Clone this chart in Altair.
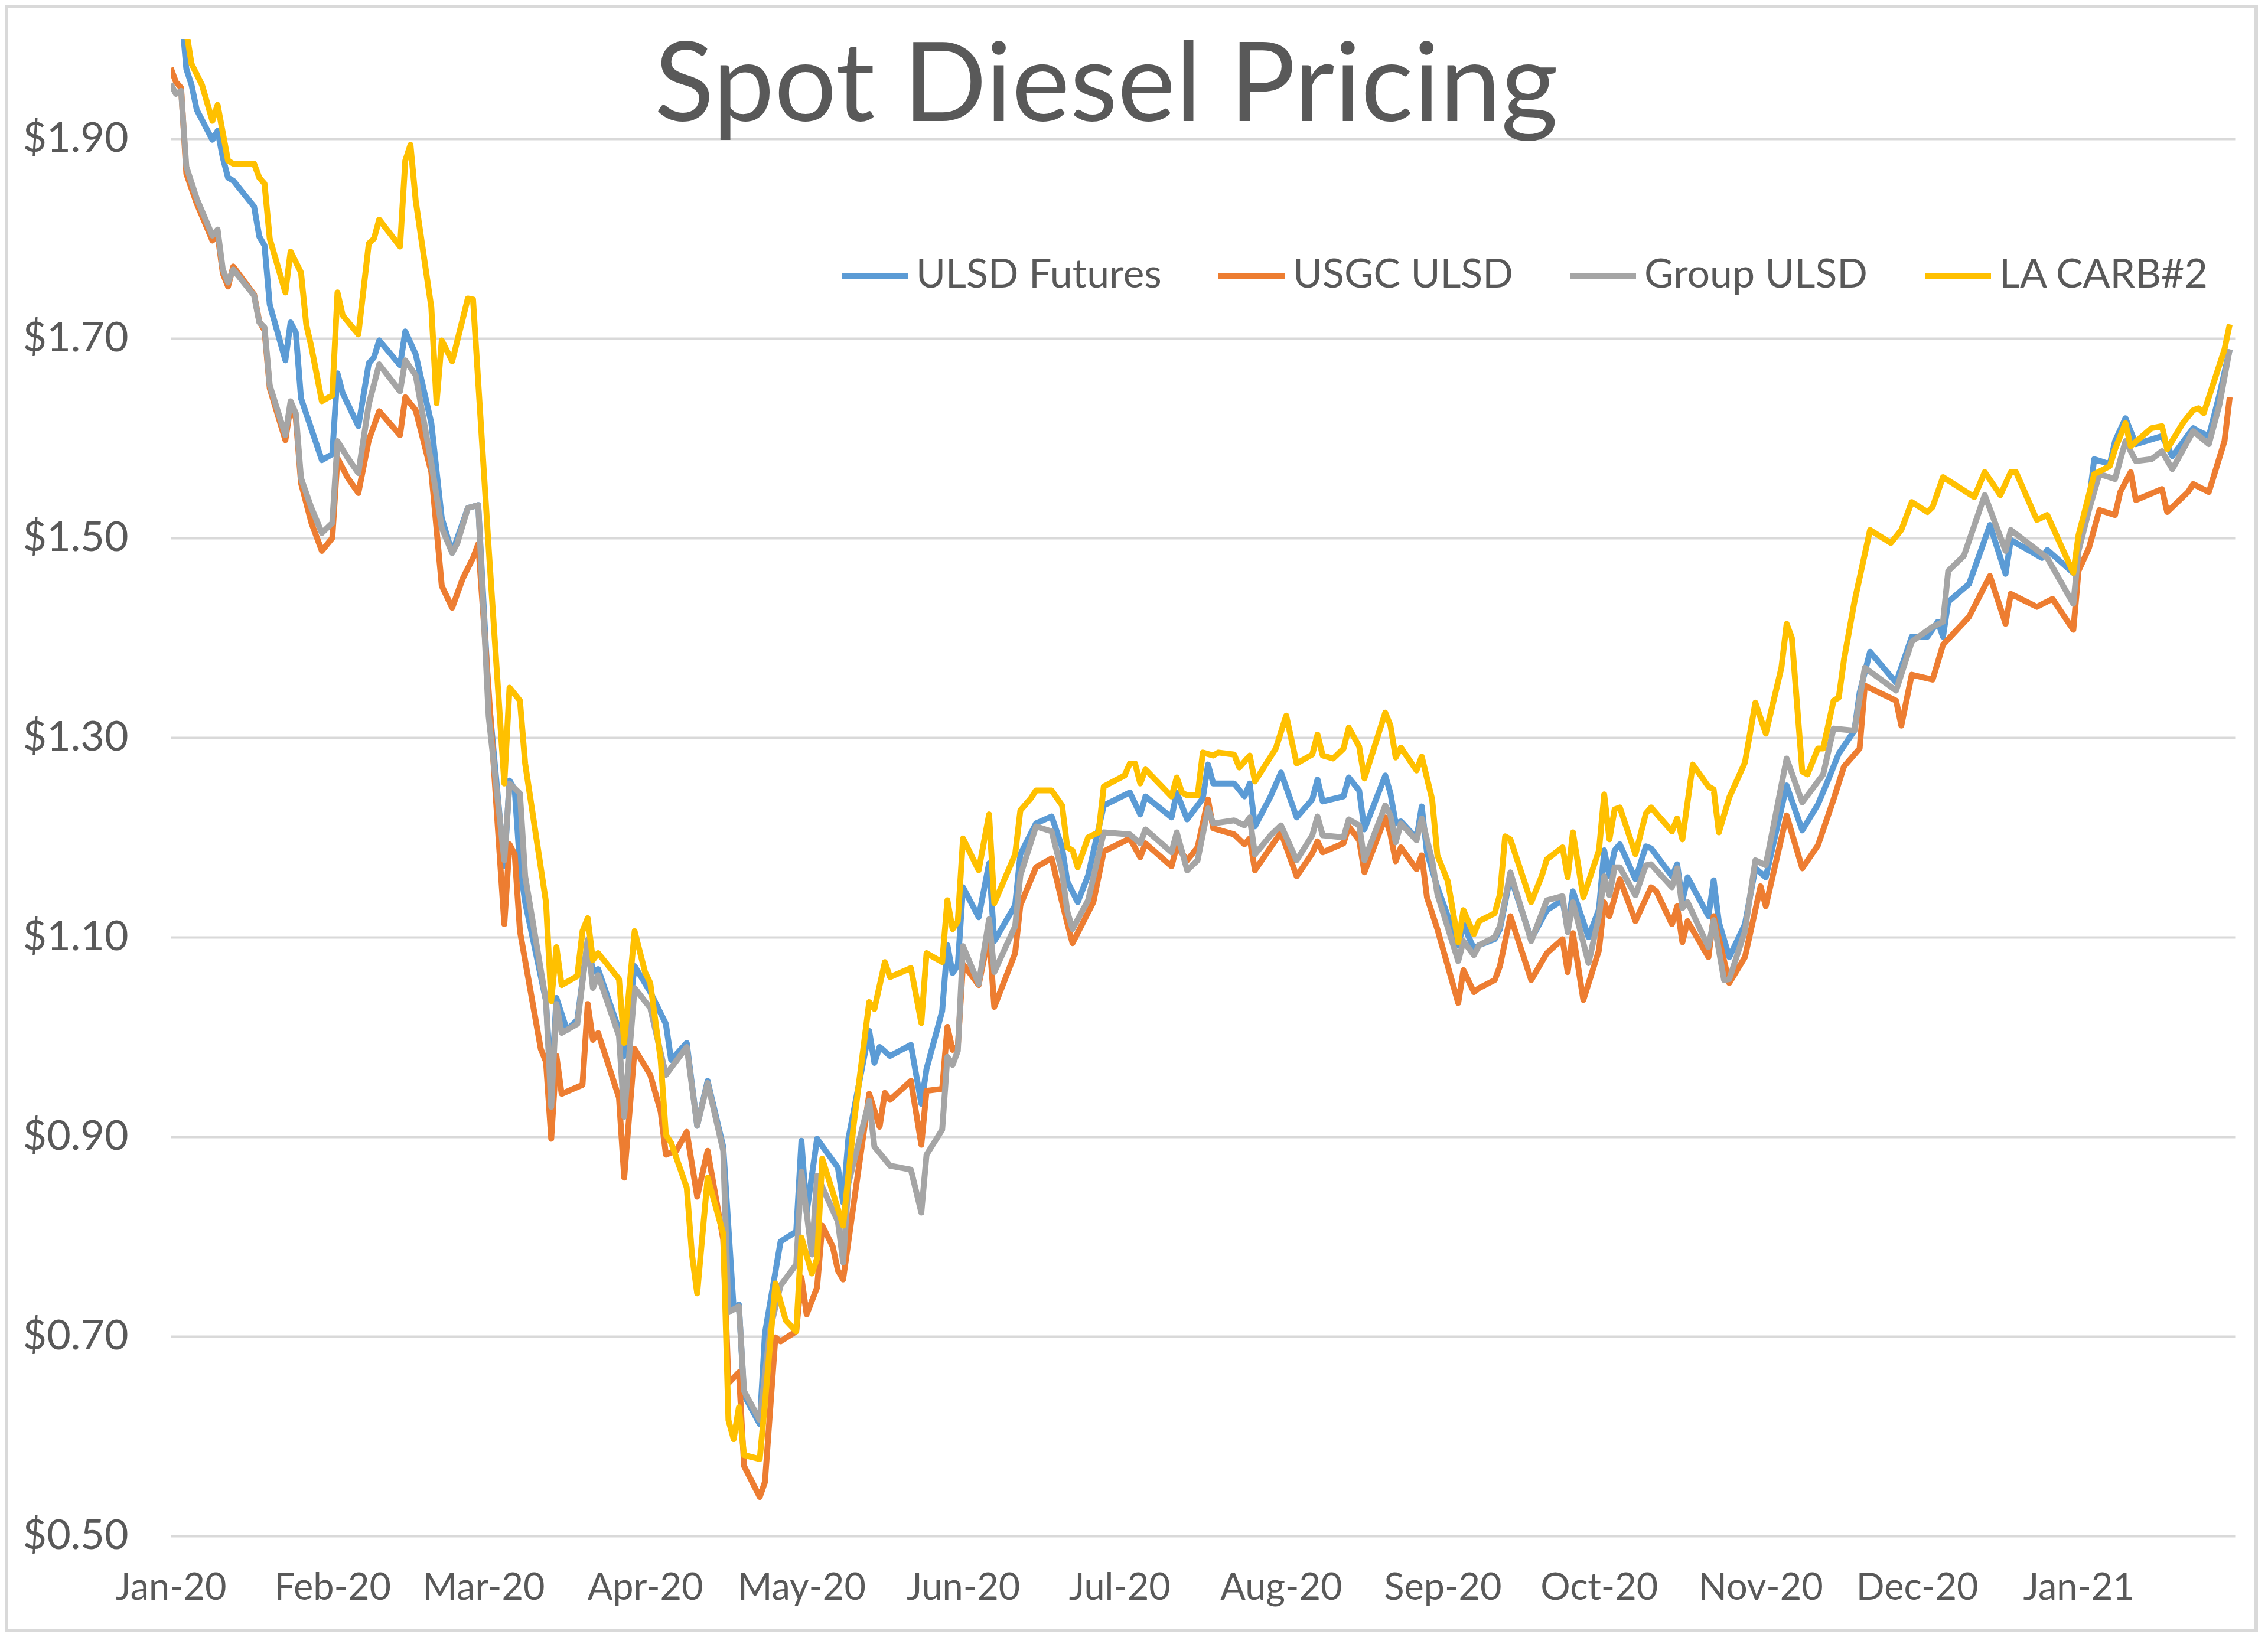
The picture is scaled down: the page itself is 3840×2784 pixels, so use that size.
import altair as alt
import pandas as pd

TITLE = "Spot Diesel Pricing"
SERIES = ["ULSD Futures", "USGC ULSD", "Group ULSD", "LA CARB#2"]
COLORS = ["#5B9BD5", "#ED7D31", "#A5A5A5", "#FFC000"]
START = "2020-01-01"  # day 0 of the day-offset lists below

Y_TICKS = [0.5, 0.7, 0.9, 1.1, 1.3, 1.5, 1.7, 1.9]
X_TICK_MONTHS = [(2020, m) for m in range(1, 13)] + [(2021, 1)]

# ---- ULSD Futures ----
ulsd_days = [0, 2, 3, 4, 5, 8, 9, 10, 11, 12, 16, 17, 18, 19, 22, 23, 24, 25, 29, 31, 32, 33, 36, 38, 39, 40,
             44, 45, 47, 50, 52, 54, 55, 57, 59, 61, 64, 65, 66, 67, 68, 72, 73, 74, 76, 78, 80, 81, 82, 86, 87,
             89, 92, 95, 96, 99, 101, 103, 106, 108, 109, 110, 113, 114, 117, 120, 121, 122, 124, 128, 129, 130,
             134, 135, 136, 138, 142, 144, 145, 148, 149, 150, 151, 152, 155, 157, 158, 162, 163, 166, 169, 171,
             172, 174, 176, 179, 184, 186, 187, 192, 193, 195, 198, 199, 200, 204, 206, 207, 208, 211, 213, 216,
             219, 220, 221, 225, 226, 228, 229, 233, 234, 235, 236, 239, 240, 241, 243, 247, 248, 250, 251, 254,
             255, 257, 261, 264, 267, 268, 269, 272, 274, 275, 276, 277, 278, 281, 283, 284, 288, 289, 290, 291,
             295, 296, 297, 299, 302, 304, 306, 310, 313, 316, 318, 320, 323, 324, 326, 331, 334, 337, 339, 340,
             341, 345, 349, 352, 353, 359, 360, 365, 367, 368, 369, 372, 373, 375, 377, 382, 384, 388, 389, 391,
             393, 395]
ulsd_vals = [2.03, 2.03, 1.97, 1.954, 1.929, 1.899, 1.908, 1.881, 1.861, 1.858, 1.832, 1.802, 1.793, 1.734,
             1.678, 1.716, 1.706, 1.640, 1.578, 1.584, 1.665, 1.645, 1.612, 1.675, 1.681, 1.698, 1.673, 1.707,
             1.684, 1.615, 1.52, 1.485, 1.50, 1.53, 1.533, 1.340, 1.171, 1.257, 1.248, 1.171, 1.135, 1.036, 0.949,
             1.039, 1.007, 1.017, 1.097, 1.065, 1.068, 1.007, 0.981, 1.071, 1.045, 1.013, 0.977, 0.994, 0.911,
             0.956, 0.890, 0.728, 0.732, 0.641, 0.612, 0.703, 0.795, 0.805, 0.896, 0.824, 0.898, 0.869, 0.834,
             0.898, 1.006, 0.974, 0.990, 0.981, 0.992, 0.933, 0.968, 1.026, 1.092, 1.064, 1.072, 1.150, 1.120,
             1.174, 1.096, 1.132, 1.183, 1.214, 1.221, 1.190, 1.156, 1.135, 1.162, 1.232, 1.245, 1.223, 1.241,
             1.220, 1.245, 1.218, 1.239, 1.273, 1.254, 1.254, 1.241, 1.254, 1.211, 1.241, 1.265, 1.220, 1.238,
             1.258, 1.236, 1.241, 1.260, 1.247, 1.208, 1.262, 1.244, 1.214, 1.216, 1.199, 1.231, 1.185, 1.150,
             1.092, 1.113, 1.088, 1.092, 1.098, 1.108, 1.161, 1.098, 1.127, 1.137, 1.108, 1.146, 1.100, 1.128,
             1.187, 1.161, 1.187, 1.193, 1.158, 1.191, 1.189, 1.161, 1.173, 1.136, 1.160, 1.121, 1.157, 1.115,
             1.080, 1.113, 1.169, 1.160, 1.252, 1.207, 1.233, 1.258, 1.284, 1.307, 1.345, 1.386, 1.355, 1.401,
             1.401, 1.416, 1.401, 1.436, 1.454, 1.513, 1.464, 1.498, 1.480, 1.488, 1.465, 1.518, 1.536, 1.579,
             1.574, 1.597, 1.620, 1.594, 1.602, 1.582, 1.610, 1.607, 1.602, 1.643, 1.689]

# ---- USGC ULSD ----
usgc_days = [0, 1, 2, 3, 5, 8, 9, 10, 11, 12, 16, 17, 18, 19, 22, 23, 24, 25, 27, 29, 31, 32, 34, 36, 38, 40, 44,
             45, 47, 50, 52, 54, 56, 58, 59, 61, 64, 65, 66, 67, 71, 72, 73, 74, 75, 79, 80, 81, 82, 86, 87, 89, 92,
             94, 95, 97, 99, 101, 103, 106, 107, 109, 110, 113, 114, 116, 117, 120, 121, 122, 124, 125, 127, 128,
             129, 131, 134, 136, 137, 138, 142, 144, 145, 148, 149, 150, 151, 152, 155, 157, 158, 162, 163, 166,
             169, 171, 172, 173, 177, 179, 184, 186, 187, 192, 193, 195, 197, 199, 200, 204, 206, 207, 208, 211,
             213, 216, 219, 220, 221, 225, 226, 228, 229, 233, 234, 235, 236, 239, 240, 241, 243, 247, 248, 250,
             251, 254, 255, 257, 261, 264, 267, 268, 269, 271, 274, 275, 276, 278, 281, 284, 285, 288, 289, 290,
             291, 295, 296, 299, 302, 305, 306, 310, 313, 316, 319, 321, 324, 325, 331, 332, 334, 338, 340, 345,
             349, 352, 353, 358, 361, 365, 366, 368, 370, 373, 374, 376, 377, 382, 383, 387, 388, 391, 394, 395]
usgc_vals = [1.971, 1.957, 1.951, 1.865, 1.835, 1.798, 1.804, 1.765, 1.752, 1.772, 1.744, 1.717, 1.708, 1.650,
             1.598, 1.632, 1.620, 1.555, 1.515, 1.487, 1.500, 1.580, 1.560, 1.545, 1.598, 1.627, 1.603, 1.641,
             1.628, 1.566, 1.452, 1.430, 1.459, 1.480, 1.494, 1.347, 1.113, 1.193, 1.183, 1.106, 0.988, 0.975,
             0.898, 0.981, 0.943, 0.952, 1.033, 0.997, 1.004, 0.939, 0.859, 0.988, 0.962, 0.925, 0.882, 0.886,
             0.905, 0.840, 0.886, 0.797, 0.653, 0.664, 0.570, 0.539, 0.554, 0.699, 0.695, 0.705, 0.759, 0.722,
             0.749, 0.811, 0.790, 0.766, 0.757, 0.832, 0.943, 0.910, 0.944, 0.937, 0.956, 0.892, 0.946, 0.948,
             1.010, 0.987, 0.990, 1.073, 1.052, 1.103, 1.030, 1.084, 1.132, 1.170, 1.179, 1.135, 1.114, 1.094,
             1.135, 1.186, 1.199, 1.180, 1.194, 1.171, 1.191, 1.177, 1.190, 1.238, 1.209, 1.203, 1.193, 1.199,
             1.167, 1.190, 1.205, 1.161, 1.184, 1.196, 1.185, 1.194, 1.211, 1.197, 1.165, 1.220, 1.203, 1.176,
             1.190, 1.168, 1.182, 1.140, 1.108, 1.034, 1.067, 1.045, 1.049, 1.057, 1.071, 1.121, 1.057, 1.084,
             1.098, 1.065, 1.104, 1.037, 1.087, 1.135, 1.121, 1.158, 1.116, 1.150, 1.146, 1.113, 1.131, 1.095,
             1.116, 1.080, 1.121, 1.054, 1.080, 1.151, 1.131, 1.222, 1.169, 1.192, 1.238, 1.271, 1.289, 1.352,
             1.337, 1.312, 1.363, 1.358, 1.393, 1.421, 1.462, 1.414, 1.444, 1.431, 1.439, 1.408, 1.467, 1.490,
             1.528, 1.523, 1.546, 1.566, 1.538, 1.549, 1.526, 1.546, 1.554, 1.546, 1.597, 1.641]

# ---- Group ULSD ----
group_days = [0, 1, 2, 3, 5, 8, 9, 10, 11, 12, 16, 17, 18, 19, 22, 23, 24, 25, 27, 29, 31, 32, 34, 36, 38, 40, 44,
              45, 47, 50, 52, 54, 55, 57, 59, 61, 64, 65, 67, 68, 72, 73, 74, 75, 78, 80, 81, 82, 86, 87, 89, 92,
              95, 99, 101, 103, 106, 107, 109, 110, 113, 115, 117, 120, 121, 123, 124, 128, 129, 130, 134, 135,
              138, 142, 144, 145, 148, 149, 150, 151, 152, 155, 157, 158, 162, 163, 166, 169, 171, 172, 173, 176,
              179, 184, 186, 187, 192, 193, 195, 197, 199, 200, 204, 206, 207, 208, 211, 213, 216, 219, 220, 221,
              225, 226, 228, 229, 233, 234, 235, 236, 239, 240, 242, 243, 247, 248, 250, 251, 254, 255, 257, 261,
              264, 267, 268, 269, 272, 274, 275, 276, 277, 278, 281, 283, 284, 288, 289, 290, 291, 295, 296, 298,
              299, 302, 304, 306, 310, 313, 317, 319, 323, 325, 331, 334, 338, 340, 341, 344, 348, 352, 353, 360,
              365, 366, 368, 370, 373, 375, 377, 380, 382, 384, 388, 391, 393, 395]
group_vals = [1.955, 1.945, 1.948, 1.872, 1.840, 1.803, 1.809, 1.769, 1.756, 1.769, 1.743, 1.716, 1.711, 1.653,
              1.603, 1.637, 1.625, 1.560, 1.530, 1.505, 1.515, 1.597, 1.580, 1.565, 1.634, 1.674, 1.647, 1.678,
              1.663, 1.575, 1.510, 1.485, 1.495, 1.530, 1.533, 1.321, 1.177, 1.254, 1.244, 1.161, 1.036, 0.930,
              1.033, 1.004, 1.013, 1.097, 1.049, 1.062, 1.001, 0.920, 1.049, 1.029, 0.962, 0.990, 0.911, 0.954,
              0.886, 0.724, 0.730, 0.645, 0.616, 0.707, 0.751, 0.772, 0.865, 0.782, 0.861, 0.815, 0.774, 0.853,
              0.936, 0.890, 0.871, 0.867, 0.824, 0.882, 0.907, 0.980, 0.972, 0.986, 1.091, 1.053, 1.118, 1.065,
              1.111, 1.162, 1.211, 1.206, 1.165, 1.126, 1.108, 1.137, 1.205, 1.203, 1.194, 1.208, 1.185, 1.205,
              1.167, 1.177, 1.229, 1.214, 1.217, 1.212, 1.220, 1.183, 1.202, 1.212, 1.177, 1.202, 1.221, 1.202,
              1.200, 1.218, 1.212, 1.177, 1.232, 1.222, 1.195, 1.214, 1.197, 1.219, 1.177, 1.143, 1.076, 1.096,
              1.082, 1.092, 1.100, 1.111, 1.165, 1.096, 1.137, 1.141, 1.105, 1.135, 1.074, 1.121, 1.161, 1.142,
              1.170, 1.170, 1.142, 1.172, 1.173, 1.150, 1.169, 1.129, 1.135, 1.090, 1.117, 1.057, 1.058, 1.106,
              1.177, 1.172, 1.279, 1.235, 1.263, 1.309, 1.307, 1.370, 1.347, 1.396, 1.411, 1.416, 1.467, 1.482,
              1.543, 1.487, 1.508, 1.480, 1.434, 1.487, 1.528, 1.564, 1.559, 1.597, 1.577, 1.579, 1.587, 1.569,
              1.607, 1.594, 1.633, 1.689]

# ---- LA CARB#2 ----
carb_days = [0, 2, 4, 6, 8, 9, 11, 12, 16, 17, 18, 19, 22, 23, 25, 26, 27, 29, 31, 32, 33, 36, 38, 39, 40, 44, 45,
             46, 47, 50, 51, 52, 54, 57, 58, 61, 64, 65, 67, 68, 72, 73, 74, 75, 78, 79, 80, 81, 82, 86, 87, 89, 91,
             92, 94, 95, 96, 99, 100, 101, 103, 106, 107, 108, 109, 110, 113, 114, 116, 118, 120, 121, 123, 124,
             125, 129, 131, 134, 135, 137, 138, 142, 144, 145, 148, 149, 150, 151, 152, 155, 157, 158, 162, 163,
             165, 166, 169, 171, 172, 173, 174, 176, 178, 179, 183, 184, 185, 186, 187, 192, 193, 194, 195, 197,
             198, 200, 201, 204, 205, 207, 208, 212, 214, 216, 219, 220, 221, 223, 225, 226, 228, 229, 233, 234,
             235, 236, 239, 240, 242, 243, 245, 247, 248, 250, 251, 254, 255, 256, 257, 261, 263, 264, 267, 268,
             269, 271, 274, 275, 276, 277, 278, 281, 283, 284, 288, 289, 290, 292, 295, 296, 297, 299, 302, 304,
             306, 309, 310, 311, 313, 314, 316, 317, 319, 320, 321, 323, 326, 330, 332, 334, 337, 338, 340, 346,
             348, 351, 353, 354, 358, 360, 365, 366, 367, 369, 372, 373, 375, 376, 380, 382, 383, 386, 388, 389,
             390, 394, 395]
carb_vals = [2.03, 2.04, 1.975, 1.954, 1.918, 1.934, 1.878, 1.875, 1.875, 1.861, 1.855, 1.800, 1.746, 1.787,
             1.766, 1.714, 1.691, 1.637, 1.643, 1.746, 1.723, 1.704, 1.795, 1.800, 1.819, 1.792, 1.878, 1.894,
             1.838, 1.731, 1.635, 1.698, 1.677, 1.740, 1.739, 1.49, 1.254, 1.350, 1.337, 1.274, 1.135, 1.036,
             1.090, 1.052, 1.061, 1.106, 1.119, 1.077, 1.084, 1.058, 0.994, 1.106, 1.065, 1.054, 0.977, 0.902,
             0.894, 0.849, 0.782, 0.743, 0.859, 0.803, 0.616, 0.597, 0.629, 0.581, 0.577, 0.633, 0.753, 0.716,
             0.705, 0.799, 0.763, 0.778, 0.878, 0.811, 0.911, 1.035, 1.028, 1.075, 1.060, 1.069, 1.014, 1.084,
             1.075, 1.137, 1.108, 1.116, 1.199, 1.167, 1.223, 1.134, 1.183, 1.227, 1.239, 1.247, 1.247, 1.232,
             1.190, 1.187, 1.170, 1.200, 1.205, 1.251, 1.262, 1.274, 1.274, 1.254, 1.268, 1.241, 1.260, 1.245,
             1.242, 1.242, 1.285, 1.282, 1.285, 1.283, 1.270, 1.282, 1.256, 1.289, 1.322, 1.274, 1.283, 1.303,
             1.282, 1.279, 1.289, 1.310, 1.291, 1.259, 1.325, 1.312, 1.280, 1.290, 1.267, 1.281, 1.238, 1.182,
             1.156, 1.095, 1.127, 1.103, 1.116, 1.124, 1.143, 1.201, 1.198, 1.135, 1.161, 1.178, 1.190, 1.160,
             1.205, 1.140, 1.187, 1.243, 1.198, 1.228, 1.230, 1.183, 1.224, 1.230, 1.206, 1.219, 1.198, 1.273,
             1.251, 1.248, 1.205, 1.240, 1.275, 1.335, 1.304, 1.370, 1.414, 1.400, 1.266, 1.263, 1.289, 1.289,
             1.337, 1.340, 1.378, 1.436, 1.508, 1.495, 1.508, 1.536, 1.526, 1.531, 1.561, 1.541, 1.566, 1.543,
             1.566, 1.566, 1.518, 1.523, 1.465, 1.503, 1.523, 1.564, 1.572, 1.589, 1.615, 1.592, 1.610, 1.612,
             1.589, 1.615, 1.628, 1.630, 1.625, 1.689, 1.714]

SERIES_DATA = [(SERIES[0], ulsd_days, ulsd_vals), (SERIES[1], usgc_days, usgc_vals),
               (SERIES[2], group_days, group_vals), (SERIES[3], carb_days, carb_vals)]

frames = []
for name, days, vals in SERIES_DATA:
    frames.append(pd.DataFrame({
        "series": name,
        "date": pd.Timestamp(START) + pd.to_timedelta(days, unit="D"),
        "price": vals,
    }))
df = pd.concat(frames, ignore_index=True)

# ---- layout / style ----
W, H = 3495, 2535
FONT = "Lato"
TEXT = "#595959"
LINE_W = 10

x_enc = alt.X(
    "date:T",
    scale=alt.Scale(domain=[alt.DateTime(year=2020, month=1, date=1),
                            alt.DateTime(year=2021, month=1, date=31)]),
    axis=alt.Axis(values=[alt.DateTime(year=y, month=m, date=1) for y, m in X_TICK_MONTHS],
                  format="%b-%y", title=None, grid=False, domain=False, ticks=False,
                  labelFlush=False, labelOverlap=False, labelLimit=2000,
                  labelPadding=57, labelFont=FONT, labelFontSize=63, labelColor=TEXT),
)
y_enc = alt.Y(
    "price:Q",
    scale=alt.Scale(domain=[0.5, 2.0], nice=False, zero=False),
    axis=alt.Axis(values=Y_TICKS, format="$.2f", title=None, grid=True, gridColor="#D9D9D9",
                  gridWidth=4, domain=False, ticks=False, labelPadding=72, labelFont=FONT,
                  labelFontSize=70, labelColor=TEXT, labelLimit=2000),
)
color_enc = alt.Color(
    "series:N",
    scale=alt.Scale(domain=SERIES, range=COLORS),
    legend=alt.Legend(orient="none", legendX=1131, legendY=340, direction="horizontal", columns=4,
                      title=None, symbolType="stroke", symbolSize=112 * 112, symbolStrokeWidth=LINE_W,
                      labelFont=FONT, labelFontSize=68, labelColor=TEXT, labelOffset=9,
                      labelLimit=2000, columnPadding=76),
)

frame = alt.Chart(pd.DataFrame({"k": [0]})).mark_rect(
    fill="#ffffff", fillOpacity=0, stroke="#D9D9D9", strokeWidth=6
).encode(x=alt.value(-278), x2=alt.value(W + 36), y=alt.value(-55), y2=alt.value(H + 160))

line_layers = []
for name in SERIES:
    line_layers.append(
        alt.Chart(df).transform_filter(alt.datum.series == name)
        .mark_line(strokeWidth=LINE_W, clip=True, strokeJoin="round")
        .encode(x=x_enc, y=y_enc, color=color_enc)
    )

title = alt.Chart(pd.DataFrame({"t": [TITLE]})).mark_text(
    font=FONT, fontSize=186, color=TEXT, align="center", baseline="alphabetic"
).encode(x=alt.value(1584), y=alt.value(139), text="t:N")

chart = alt.layer(frame, *line_layers, title).properties(
    width=W, height=H,
    padding={"left": 281, "top": 58, "right": 40, "bottom": 165},
    autosize=alt.AutoSizeParams(type="none"),
    background="#ffffff",
).configure_view(strokeWidth=0)

chart.save("out.html", embed_options={"renderer": "svg", "actions": False})
